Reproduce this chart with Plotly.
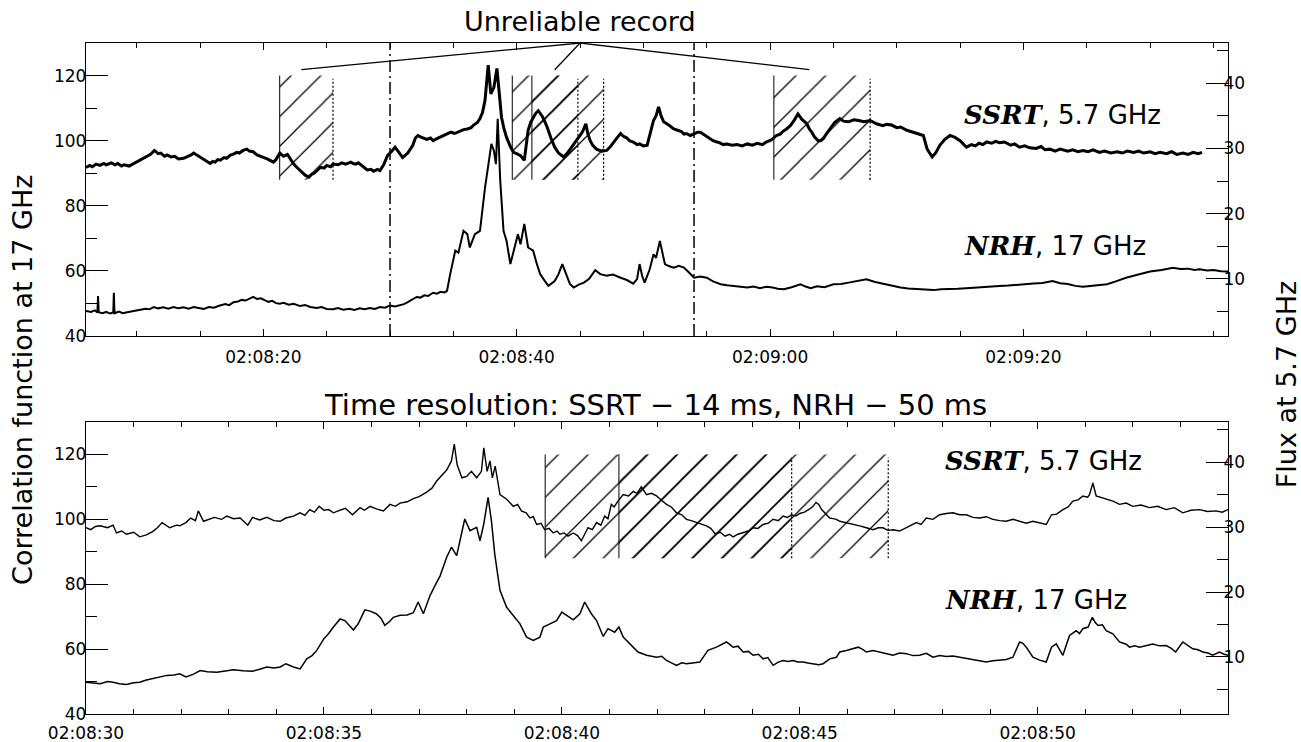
import pandas as pd
import plotly.graph_objects as go
from plotly.subplots import make_subplots

# ---------------- data (seconds after 02:08:00) ----------------
top_ssrt_t = [6.0, 6.3, 6.5, 6.8, 7.1, 7.4, 7.6, 8.0, 8.3, 8.5, 8.8, 9.0, 9.4, 9.7, 10.0, 10.2, 10.5,
              10.8, 11.1, 11.4, 11.7, 11.9, 12.2, 12.4, 12.7, 13.0, 13.3, 13.7, 14.1, 14.3, 14.5, 14.8,
              15.1, 15.4, 15.8, 16.0, 16.2, 16.4, 16.6, 16.9, 17.1, 17.4, 17.6, 17.9, 18.1, 18.4, 18.7,
              18.9, 19.2, 19.5, 19.8, 20.0, 20.3, 20.6, 20.8, 21.0, 21.3, 21.6, 21.9, 22.1, 22.4, 22.7,
              22.9, 23.1, 23.3, 23.6, 23.8, 24.0, 24.3, 24.5, 24.8, 25.0, 25.3, 25.5, 25.9, 26.2, 26.5,
              26.9, 27.1, 27.3, 27.5, 27.7, 28.0, 28.2, 28.5, 28.7, 29.0, 29.2, 29.5, 29.8, 30.1, 30.4,
              30.7, 31.0, 31.4, 31.8, 32.0, 32.2, 32.4, 32.7, 32.9, 33.2, 33.4, 33.7, 34.0, 34.4, 34.8,
              35.1, 35.4, 35.8, 36.1, 36.4, 36.6, 36.9, 37.1, 37.3, 37.5, 37.75, 37.96, 38.2, 38.44,
              38.65, 38.8, 39.0, 39.2, 39.5, 39.75, 40.0, 40.3, 40.6, 40.9, 41.1, 41.3, 41.5, 41.7, 42.0,
              42.2, 42.4, 42.7, 43.0, 43.3, 43.7, 44.0, 44.35, 44.7, 45.0, 45.2, 45.46, 45.6, 45.8, 46.0,
              46.3, 46.7, 47.1, 47.4, 47.6, 47.9, 48.2, 48.4, 48.7, 48.9, 49.2, 49.5, 49.7, 50.0, 50.3,
              50.6, 50.8, 51.0, 51.2, 51.4, 51.6, 52.0, 52.4, 52.7, 53.0, 53.2, 53.4, 53.7, 54.0, 54.3,
              54.5, 54.8, 55.0, 55.3, 55.5, 55.8, 56.0, 56.3, 56.6, 57.0, 57.4, 57.8, 58.2, 58.6, 59.0,
              59.4, 59.7, 60.1, 60.5, 60.8, 61.0, 61.3, 61.6, 61.9, 62.2, 62.5, 62.9, 63.1, 63.3, 63.5,
              63.8, 64.0, 64.2, 64.5, 64.8, 65.1, 65.5, 65.8, 66.2, 66.6, 67.0, 67.4, 67.9, 68.4, 68.9,
              69.2, 69.6, 70.0, 70.3, 70.8, 71.3, 71.7, 72.1, 72.4, 72.8, 73.1, 73.4, 73.8, 74.2, 74.6,
              75.0, 75.5, 75.9, 76.2, 76.5, 76.8, 77.1, 77.5, 77.8, 78.1, 78.5, 79.0, 79.3, 79.7, 80.1,
              80.5, 81.0, 81.4, 81.7, 82.1, 82.5, 82.9, 83.5, 83.9, 84.3, 84.7, 85.1, 85.5, 86.0, 86.4,
              86.9, 87.4, 87.8, 88.2, 88.7, 89.1, 89.5, 90.0, 90.4, 90.8, 91.3, 91.7, 92.1, 92.6, 93.0,
              93.4, 93.8, 94.1]
top_ssrt_v = [27.1, 27.4, 27.2, 27.6, 27.4, 27.7, 27.5, 27.8, 27.5, 27.7, 27.3, 27.5, 27.3, 27.6, 27.9,
              28.2, 28.4, 28.8, 29.1, 29.7, 29.2, 29.3, 28.8, 29.0, 28.7, 28.8, 28.4, 28.5, 28.8, 29.0,
              29.3, 28.9, 28.5, 28.2, 27.7, 28.0, 27.9, 28.3, 28.2, 28.6, 28.5, 29.0, 29.1, 29.4, 29.3,
              29.7, 29.9, 29.6, 29.5, 29.0, 28.8, 28.6, 28.4, 28.1, 27.9, 28.3, 29.3, 28.8, 29.1, 28.5,
              27.6, 27.0, 26.6, 26.3, 25.9, 25.6, 26.0, 26.2, 26.8, 27.1, 27.0, 27.4, 27.2, 27.6, 27.5,
              27.8, 27.6, 27.9, 27.7, 27.6, 27.8, 27.5, 27.0, 26.7, 26.8, 26.5, 26.8, 26.6, 27.5, 28.9,
              29.5, 30.2, 29.4, 28.6, 29.3, 30.5, 31.6, 32.0, 31.8, 31.5, 31.4, 31.6, 31.2, 31.5, 31.8,
              32.1, 32.5, 32.3, 32.6, 32.9, 33.0, 33.2, 33.6, 34.0, 34.6, 35.5, 37.4, 42.8, 38.4, 39.4,
              42.3, 37.9, 34.8, 33.0, 31.7, 30.3, 29.4, 29.2, 28.9, 28.2, 32.8, 34.0, 34.8, 35.4, 35.8,
              35.0, 34.2, 33.3, 31.6, 30.2, 29.3, 28.7, 29.3, 30.2, 31.2, 32.0, 32.6, 33.8, 32.4, 31.2,
              30.5, 29.9, 29.6, 29.7, 30.3, 30.9, 31.6, 32.3, 31.9, 31.6, 31.2, 31.0, 30.6, 30.7, 30.4,
              30.5, 32.8, 34.3, 35.0, 36.4, 35.0, 34.1, 33.6, 33.0, 32.8, 32.6, 32.2, 32.3, 32.0, 32.2,
              32.5, 32.5, 32.1, 31.8, 31.4, 31.2, 31.0, 30.9, 30.6, 30.7, 30.5, 30.6, 30.4, 30.7, 30.5,
              30.8, 30.6, 31.0, 31.3, 32.0, 32.2, 32.6, 33.0, 33.5, 34.3, 35.3, 34.5, 33.8, 33.0, 32.5,
              31.8, 31.2, 31.2, 31.5, 32.4, 33.3, 34.0, 34.6, 34.2, 34.1, 34.4, 34.3, 34.1, 34.3, 33.8,
              33.5, 33.7, 33.6, 33.2, 33.3, 32.8, 32.5, 32.3, 32.0, 29.9, 28.7, 29.4, 30.5, 31.4, 32.0,
              31.7, 31.2, 30.2, 30.6, 30.4, 30.8, 30.6, 31.0, 30.8, 31.1, 30.9, 31.0, 30.5, 30.7, 30.2,
              30.4, 30.1, 30.0, 30.3, 29.8, 29.9, 29.6, 29.9, 29.6, 29.8, 29.5, 29.7, 29.5, 29.8, 29.4,
              29.6, 29.3, 29.5, 29.3, 29.6, 29.4, 29.6, 29.3, 29.5, 29.2, 29.4, 29.2, 29.5, 29.1, 29.3,
              29.1, 29.4, 29.2, 29.4]

top_nrh_t = [6.0, 6.4, 6.7, 6.9, 6.95, 7.0, 7.3, 7.6, 7.9, 8.15, 8.2, 8.25, 8.6, 8.9, 9.25, 9.6, 10.0,
             10.3, 10.7, 11.0, 11.35, 11.7, 12.1, 12.5, 12.9, 13.3, 13.7, 14.1, 14.5, 14.9, 15.3, 15.7,
             16.1, 16.5, 17.0, 17.3, 17.65, 18.0, 18.3, 18.6, 19.0, 19.2, 19.5, 19.8, 20.1, 20.4, 20.7,
             21.0, 21.3, 21.6, 22.0, 22.4, 22.9, 23.3, 23.7, 24.2, 24.6, 25.0, 25.5, 25.9, 26.3, 26.8,
             27.2, 27.6, 28.0, 28.4, 28.8, 29.2, 29.6, 30.0, 30.4, 30.8, 31.1, 31.4, 31.6, 31.9, 32.1,
             32.4, 32.7, 33.0, 33.4, 33.7, 34.0, 34.3, 34.5, 34.75, 35.15, 35.4, 35.8, 36.1, 36.3,
             36.7, 37.1, 37.5, 37.8, 38.0, 38.2, 38.36, 38.5, 38.7, 38.96, 39.2, 39.5, 39.9, 40.1,
             40.3, 40.6, 40.9, 41.3, 41.6, 41.85, 42.2, 42.5, 43.0, 43.3, 43.6, 44.0, 44.2, 44.5, 44.9,
             45.3, 45.7, 46.2, 46.6, 47.1, 47.6, 48.2, 48.7, 49.2, 49.5, 49.7, 49.9, 50.1, 50.5, 50.8,
             51.0, 51.3, 51.5, 51.7, 52.0, 52.4, 52.8, 53.2, 53.6, 54.0, 54.5, 55.0, 55.5, 56.1, 56.6,
             57.1, 57.6, 58.2, 58.7, 59.2, 59.7, 60.2, 60.6, 61.1, 61.7, 62.4, 62.8, 63.2, 63.7, 64.3,
             65.0, 65.6, 66.2, 66.9, 67.6, 68.3, 69.0, 69.6, 70.3, 70.9, 71.6, 72.2, 72.9, 73.5, 74.2,
             74.8, 75.5, 76.1, 76.8, 77.4, 78.1, 78.8, 79.5, 80.1, 80.8, 81.5, 82.3, 82.9, 83.5, 84.1,
             84.7, 85.6, 86.6, 87.3, 88.1, 89.0, 90.0, 90.9, 91.8, 92.4, 93.0, 93.5, 93.9, 94.5, 95.0,
             95.6, 96.2]
top_nrh_v = [47.7, 47.4, 47.9, 47.2, 52.3, 47.3, 47.0, 47.4, 46.9, 47.2, 53.3, 47.0, 47.5, 47.0, 47.3,
             47.6, 47.8, 48.1, 48.4, 48.2, 48.9, 48.5, 48.8, 48.4, 48.9, 48.5, 48.8, 48.4, 48.9, 48.6,
             48.3, 48.9, 48.7, 49.3, 49.8, 49.5, 50.4, 50.6, 51.1, 50.9, 51.8, 52.0, 51.4, 51.6, 51.0,
             50.5, 50.8, 50.1, 49.9, 50.2, 49.6, 49.9, 49.2, 49.5, 48.9, 48.6, 48.9, 48.3, 48.2, 48.6,
             48.1, 48.4, 48.0, 48.5, 48.2, 48.6, 48.3, 48.9, 48.7, 49.4, 49.1, 49.4, 49.8, 50.4, 50.8,
             51.6, 52.0, 51.8, 52.5, 52.3, 53.3, 53.0, 53.6, 53.4, 53.9, 59.0, 66.2, 65.6, 72.3, 71.3,
             67.2, 71.3, 72.3, 85.6, 93.8, 99.0, 96.9, 92.8, 106.7, 87.7, 72.3, 69.2, 62.1, 68.2, 71.3,
             68.2, 74.4, 67.2, 66.2, 62.0, 59.0, 57.0, 55.4, 56.9, 59.0, 62.1, 57.9, 56.0, 54.9, 55.8,
             56.4, 57.5, 60.2, 59.0, 58.5, 58.9, 57.9, 57.2, 56.1, 57.5, 62.1, 58.5, 56.4, 60.5, 65.1,
             64.0, 69.2, 65.5, 62.1, 61.5, 61.0, 61.6, 61.0, 59.5, 57.9, 58.3, 57.9, 56.8, 55.9, 55.6,
             55.4, 55.0, 54.9, 55.2, 54.7, 55.1, 54.9, 54.5, 54.4, 55.0, 55.9, 55.2, 54.7, 55.3, 55.0,
             55.9, 56.0, 56.4, 56.8, 57.4, 56.6, 56.0, 55.3, 54.9, 54.6, 54.5, 54.2, 54.1, 54.4, 54.4,
             54.5, 54.7, 54.9, 55.0, 55.2, 55.4, 55.5, 55.8, 55.9, 56.1, 56.3, 56.9, 56.2, 56.0, 55.4,
             55.1, 55.5, 55.9, 56.8, 57.9, 58.8, 59.8, 60.3, 61.0, 60.6, 60.7, 60.3, 60.5, 60.1, 60.3,
             59.9, 59.8]

bot_ssrt_t = [30.0, 30.1, 30.2, 30.3, 30.45, 30.57, 30.64, 30.75, 30.85, 31.0, 31.13, 31.27, 31.4, 31.5,
              31.6, 31.76, 31.9, 31.97, 32.1, 32.2, 32.3, 32.36, 32.47, 32.6, 32.7, 32.85, 32.96, 33.1,
              33.24, 33.4, 33.5, 33.65, 33.8, 33.95, 34.08, 34.2, 34.36, 34.5, 34.6, 34.7, 34.8, 34.9,
              35.0, 35.1, 35.2, 35.3, 35.45, 35.6, 35.76, 35.85, 35.97, 36.1, 36.25, 36.39, 36.5, 36.6,
              36.75, 36.88, 37.0, 37.16, 37.27, 37.37, 37.47, 37.58, 37.68, 37.74, 37.8, 37.9, 38.0,
              38.1, 38.21, 38.31, 38.36, 38.43, 38.49, 38.54, 38.6, 38.7, 38.84, 38.98, 39.07, 39.15,
              39.25, 39.33, 39.4, 39.47, 39.56, 39.64, 39.73, 39.82, 39.9, 39.96, 40.05, 40.13, 40.24,
              40.33, 40.41, 40.48, 40.55, 40.64, 40.73, 40.82, 40.9, 40.97, 41.04, 41.1, 41.18, 41.29,
              41.4, 41.5, 41.58, 41.67, 41.78, 41.88, 41.99, 42.1, 42.2, 42.3, 42.41, 42.52, 42.62,
              42.72, 42.83, 42.93, 43.04, 43.13, 43.22, 43.33, 43.43, 43.52, 43.6, 43.7, 43.81, 43.92,
              44.02, 44.12, 44.23, 44.34, 44.44, 44.55, 44.65, 44.74, 44.83, 44.92, 45.0, 45.1, 45.21,
              45.28, 45.34, 45.4, 45.46, 45.56, 45.63, 45.7, 45.77, 45.84, 45.98, 46.1, 46.26, 46.4,
              46.54, 46.65, 46.75, 46.85, 46.96, 47.1, 47.24, 47.35, 47.45, 47.55, 47.66, 47.8, 47.94,
              48.08, 48.22, 48.36, 48.5, 48.64, 48.78, 48.92, 49.06, 49.2, 49.34, 49.48, 49.62, 49.76,
              49.9, 50.04, 50.18, 50.29, 50.4, 50.53, 50.64, 50.74, 50.85, 50.95, 51.05, 51.09, 51.16,
              51.23, 51.33, 51.44, 51.58, 51.72, 51.86, 52.0, 52.17, 52.35, 52.52, 52.7, 52.87, 53.05,
              53.22, 53.4, 53.57, 53.75, 53.88, 54.0]
bot_ssrt_v = [29.9, 29.6, 30.1, 30.2, 29.9, 30.3, 29.1, 29.4, 28.9, 29.2, 28.5, 28.8, 29.3, 29.9,
              30.7, 29.9, 30.3, 30.2, 30.7, 31.4, 31.0, 32.5, 30.9, 31.3, 31.5, 31.2, 31.7, 31.3,
              31.4, 30.3, 31.5, 31.1, 31.5, 31.0, 30.9, 31.4, 31.7, 32.2, 31.8, 32.7, 32.3, 33.2,
              32.6, 32.7, 32.2, 32.5, 32.9, 31.9, 33.0, 32.6, 33.2, 32.8, 32.5, 33.5, 33.2, 33.7,
              33.9, 34.4, 34.7, 35.4, 36.0, 37.1, 37.9, 38.8, 40.2, 42.8, 39.6, 37.6, 37.8,
              38.6, 37.6, 38.6, 42.2, 38.6, 40.2, 37.6, 39.4, 35.0, 34.3, 33.2, 33.5, 32.5,
              32.2, 31.4, 31.6, 30.4, 30.6, 29.6, 29.8, 29.1, 29.4, 28.9, 29.1, 28.6, 29.1,
              28.7, 27.9, 29.0, 29.9, 29.6, 30.7, 30.3, 31.7, 31.3, 33.5, 33.1, 34.0, 35.0,
              34.8, 35.5, 35.2, 36.2, 35.0, 35.2, 34.8, 34.1, 33.5, 33.1, 32.2, 31.9, 31.2,
              31.0, 30.7, 30.5, 30.2, 29.8, 29.0, 29.2, 28.6, 28.9, 28.5, 28.9, 29.1, 29.4,
              29.9, 29.8, 30.4, 30.6, 31.2, 31.0, 31.7, 31.5, 31.9, 31.7, 32.1, 32.3, 32.8,
              33.2, 33.8, 33.5, 32.7, 31.9, 31.4, 31.3, 31.2, 30.9, 30.7, 30.5, 30.2, 29.9,
              29.6, 29.9, 29.9, 29.5, 29.6, 29.4, 29.9, 30.3, 30.7, 30.4, 31.4, 31.2, 31.9,
              32.1, 32.2, 31.9, 31.9, 31.5, 31.4, 31.6, 31.2, 31.0, 30.9, 31.2, 30.9, 30.6,
              30.9, 30.7, 30.4, 31.9, 32.0, 32.7, 33.1, 34.0, 34.2, 34.8, 34.6, 35.0, 36.8,
              34.8, 34.6, 34.3, 34.0, 33.5, 33.7, 33.2, 33.4, 33.0, 33.2, 32.7, 33.0, 32.2,
              32.6, 32.7, 32.4, 32.5, 32.3, 32.7]

bot_nrh_t = [30.0, 30.15, 30.3, 30.45, 30.57, 30.7, 30.85, 31.0, 31.13, 31.27, 31.41, 31.55, 31.7, 31.85,
             31.97, 32.1, 32.25, 32.4, 32.55, 32.75, 32.9, 33.1, 33.3, 33.5, 33.65, 33.8, 33.95, 34.08,
             34.2, 34.36, 34.5, 34.64, 34.75, 34.85, 35.0, 35.1, 35.2, 35.34, 35.44, 35.55, 35.62, 35.72,
             35.86, 35.97, 36.1, 36.2, 36.28, 36.38, 36.46, 36.6, 36.75, 36.88, 36.98, 37.09, 37.23,
             37.35, 37.44, 37.58, 37.68, 37.79, 37.9, 37.96, 38.07, 38.21, 38.28, 38.36, 38.45, 38.52,
             38.59, 38.7, 38.84, 38.98, 39.12, 39.26, 39.4, 39.54, 39.61, 39.75, 39.89, 40.0, 40.1,
             40.24, 40.38, 40.48, 40.62, 40.73, 40.87, 40.97, 41.11, 41.2, 41.29, 41.43, 41.6, 41.78,
             41.99, 42.1, 42.2, 42.41, 42.52, 42.62, 42.75, 42.9, 43.07, 43.25, 43.46, 43.6, 43.7,
             43.81, 43.92, 44.02, 44.13, 44.23, 44.33, 44.44, 44.55, 44.65, 44.75, 44.86, 44.96, 45.07,
             45.17, 45.28, 45.4, 45.49, 45.63, 45.77, 45.84, 45.98, 46.1, 46.23, 46.32, 46.4, 46.54,
             46.68, 46.82, 46.96, 47.1, 47.24, 47.38, 47.52, 47.66, 47.8, 47.94, 48.08, 48.22, 48.36,
             48.5, 48.64, 48.78, 48.92, 49.06, 49.2, 49.34, 49.48, 49.55, 49.62, 49.69, 49.76, 49.9,
             50.04, 50.18, 50.29, 50.39, 50.46, 50.53, 50.6, 50.67, 50.81, 50.88, 50.95, 51.06, 51.15,
             51.21, 51.27, 51.36, 51.44, 51.58, 51.72, 51.86, 51.93, 52.04, 52.14, 52.28, 52.42, 52.56,
             52.7, 52.8, 52.9, 53.05, 53.16, 53.26, 53.37, 53.47, 53.58, 53.68, 53.82, 53.92, 54.0]
bot_nrh_v = [49.8, 49.5, 49.3, 50.0, 49.8, 49.3, 49.1, 49.6, 49.8, 50.5, 50.9, 51.5, 51.9, 52.0,
             52.4, 51.4, 52.2, 53.4, 53.0, 52.9, 53.3, 53.6, 53.3, 53.2, 53.8, 54.5, 54.2, 54.5,
             55.5, 54.5, 53.9, 57.0, 58.0, 59.6, 63.2, 64.8, 66.8, 69.3, 68.8, 67.0, 65.9, 67.8,
             72.1, 71.7, 70.9, 69.5, 67.3, 68.5, 69.8, 70.4, 70.5, 71.2, 74.5, 70.9, 76.5,
             80.0, 82.5, 88.3, 91.4, 88.8, 95.5, 100.1, 96.5, 97.5, 93.4, 98.6, 106.8, 99.6,
             89.3, 78.1, 72.9, 70.4, 67.8, 63.7, 62.7, 63.7, 66.8, 67.8, 68.8, 71.4, 70.4,
             69.0, 70.9, 74.5, 70.9, 68.8, 63.9, 66.3, 65.2, 66.8, 63.7, 61.6, 59.1, 58.1,
             57.5, 57.8, 56.5, 55.0, 55.8, 55.5, 55.7, 56.0, 59.6, 60.6, 62.2, 60.6, 60.9,
             59.1, 59.3, 58.1, 58.4, 57.0, 57.4, 55.0, 56.0, 56.5, 56.2, 56.5, 56.0, 56.0,
             55.7, 55.5, 55.2, 55.5, 57.0, 57.5, 59.1, 59.6, 60.1, 60.6, 59.9, 59.1, 59.6,
             59.1, 58.5, 58.1, 58.8, 58.6, 58.0, 58.1, 58.7, 57.5, 58.0, 57.7, 57.9, 57.5,
             57.2, 56.7, 56.5, 56.0, 56.4, 56.5, 56.8, 57.5, 60.0, 62.2, 61.8, 60.6, 57.5,
             56.6, 56.0, 60.6, 61.6, 60.0, 58.1, 61.2, 64.2, 65.7, 64.8, 66.3, 66.8, 69.8,
             68.2, 67.3, 67.5, 65.7, 64.7, 62.2, 61.5, 60.6, 61.0, 60.6, 61.1, 61.6, 61.0,
             61.1, 60.3, 59.1, 62.2, 61.0, 60.1, 59.8, 59.1, 58.8, 58.1, 59.1, 58.4, 58.1]

# unreliable-record intervals (start = solid edge, end = dotted edge), seconds after 02:08:00
top_hatch_start = [21.29, 39.65, 41.2, 60.3]
top_hatch_end = [25.5, 44.83, 46.86, 67.9]
bot_hatch_start = [39.65, 41.2]
bot_hatch_end = [44.83, 46.86]
hatch_low, hatch_high = 88, 120
pointer_tip = (45.0, 130)
pointer_ends_t = [23.0, 43.0, 63.1]
pointer_ends_v = 121.8
zoom_window = [30.0, 54.0]

BASE = pd.Timestamp("2000-01-01 02:08:00")


def ts(t):
    return (BASE + pd.Timedelta(seconds=t)).strftime("%Y-%m-%d %H:%M:%S.%f")


def tlist(ts_list):
    return [ts(t) for t in ts_list]


FONT = "DejaVu Sans"
fig = make_subplots(rows=2, cols=1, specs=[[{"secondary_y": True}], [{"secondary_y": True}]])


def add_hatch(starts, ends, row):
    for a, b in zip(starts, ends):
        fig.add_trace(go.Scatter(
            x=tlist([a, a, b, b, a]), y=[hatch_low, hatch_high, hatch_high, hatch_low, hatch_low],
            mode="lines", line=dict(width=0, color="rgba(0,0,0,0)"), fill="toself",
            fillcolor="rgba(0,0,0,0)",
            fillpattern=dict(shape="/", size=21, solidity=0.06, fgcolor="black", fgopacity=1,
                             bgcolor="rgba(0,0,0,0)"),
            hoverinfo="skip", showlegend=False), row=row, col=1, secondary_y=False)


add_hatch(top_hatch_start, top_hatch_end, 1)
add_hatch(bot_hatch_start, bot_hatch_end, 2)

fig.add_trace(go.Scatter(x=tlist(top_nrh_t), y=top_nrh_v, mode="lines",
                         line=dict(color="black", width=2), showlegend=False),
              row=1, col=1, secondary_y=False)
fig.add_trace(go.Scatter(x=tlist(top_ssrt_t), y=top_ssrt_v, mode="lines",
                         line=dict(color="black", width=3), showlegend=False),
              row=1, col=1, secondary_y=True)
fig.add_trace(go.Scatter(x=tlist(bot_nrh_t), y=bot_nrh_v, mode="lines",
                         line=dict(color="black", width=1.5), showlegend=False),
              row=2, col=1, secondary_y=False)
fig.add_trace(go.Scatter(x=tlist(bot_ssrt_t), y=bot_ssrt_v, mode="lines",
                         line=dict(color="black", width=1.4), showlegend=False),
              row=2, col=1, secondary_y=True)

shapes = []
for xr, yr, starts, ends in [("x", "y", top_hatch_start, top_hatch_end),
                             ("x2", "y3", bot_hatch_start, bot_hatch_end)]:
    for a, b in zip(starts, ends):
        shapes.append(dict(type="line", xref=xr, yref=yr, x0=ts(a), x1=ts(a), y0=hatch_low,
                           y1=hatch_high, line=dict(color="black", width=1)))
        shapes.append(dict(type="line", xref=xr, yref=yr, x0=ts(b), x1=ts(b), y0=hatch_low,
                           y1=hatch_high - 1, line=dict(color="black", width=1.2, dash="2px,2px")))
for t in zoom_window:
    shapes.append(dict(type="line", xref="x", yref="y domain", x0=ts(t), x1=ts(t), y0=0, y1=1,
                       line=dict(color="black", width=1.5, dash="12px,4px,2px,4px")))
for t in pointer_ends_t:
    shapes.append(dict(type="line", xref="x", yref="y", x0=ts(pointer_tip[0]), y0=pointer_tip[1],
                       x1=ts(t), y1=pointer_ends_v, line=dict(color="black", width=1.3)))

ann = []


def label(text, x, y, size=26, **kw):
    ann.append(dict(text=text, x=x, y=y, xref="paper", yref="paper", showarrow=False,
                    font=dict(family=FONT, size=size, color="black"), **kw))


serif = "<span style='font-family:DejaVu Serif'><b><i>%s</i></b></span>"
label(serif % "SSRT" + ", 5.7 GHz", 0.767, 0.8927, xanchor="left", yanchor="middle")
label(serif % "NRH" + ", 17 GHz", 0.767, 0.6975, xanchor="left", yanchor="middle")
label(serif % "SSRT" + ", 5.7 GHz", 0.7504, 0.377, xanchor="left", yanchor="middle")
label(serif % "NRH" + ", 17 GHz", 0.7504, 0.170, xanchor="left", yanchor="middle")
label("Unreliable record", 0.4326, 1.0313, size=27, xanchor="center", yanchor="middle")
label("Time resolution: SSRT − 14 ms, NRH − 50 ms", 0.499, 0.4605, size=29,
      xanchor="center", yanchor="middle")
label("Correlation function at 17 GHz", -0.0552, 0.4978, size=27, textangle=-90,
      xanchor="center", yanchor="middle")
label("Flux at 5.7 GHz", 1.0508, 0.490, size=27, textangle=-90, xanchor="center",
      yanchor="middle")

axis_common = dict(showgrid=False, zeroline=False, showline=True, linecolor="black", linewidth=1.3,
                   ticks="inside", tickcolor="black", tickwidth=1.2, automargin=False,
                   tickfont=dict(family=FONT, size=17, color="black"))
yminor_l = dict(tickvals=[50, 70, 90, 110], ticks="inside", ticklen=11, tickcolor="black",
                showgrid=False)
yminor_r = dict(tickvals=[5, 15, 25, 35, 45], ticks="inside", ticklen=11, tickcolor="black",
                showgrid=False)

fig.update_layout(
    width=1301, height=742, paper_bgcolor="white", plot_bgcolor="white",
    margin=dict(l=86, r=73, t=43, b=28, autoexpand=False),
    shapes=shapes, annotations=ann, showlegend=False,
    xaxis=dict(axis_common, domain=[0, 1], anchor="y", type="date",
               range=[ts(6.0), ts(96.15)], tick0=ts(0), dtick=20000, tickformat="%H:%M:%S",
               ticklen=7, mirror="ticks", ticklabelstandoff=5,
               minor=dict(dtick=5000, tick0=ts(0), ticks="inside", ticklen=5, tickcolor="black",
                          showgrid=False)),
    yaxis=dict(axis_common, domain=[0.5633, 1.0], anchor="x", range=[40, 130],
               tickvals=[40, 60, 80, 100, 120], ticklen=22, ticklabelstandoff=-5,
               minor=yminor_l),
    yaxis2=dict(axis_common, domain=[0.5633, 1.0], anchor="x", overlaying="y", side="right",
                range=[1.2, 46.2], tickvals=[10, 20, 30, 40], ticklen=22, ticklabelstandoff=-9,
                minor=yminor_r),
    xaxis2=dict(axis_common, domain=[0, 1], anchor="y3", type="date",
                range=[ts(30.0), ts(54.0)], tick0=ts(0), dtick=5000, tickformat="%H:%M:%S",
                ticklen=7, mirror="ticks", ticklabelstandoff=3,
                minor=dict(dtick=1000, tick0=ts(0), ticks="inside", ticklen=5, tickcolor="black",
                           showgrid=False)),
    yaxis3=dict(axis_common, domain=[0, 0.4352], anchor="x2", range=[40, 130],
                tickvals=[40, 60, 80, 100, 120], ticklen=22, ticklabelstandoff=-5,
                minor=yminor_l),
    yaxis4=dict(axis_common, domain=[0, 0.4352], anchor="x2", overlaying="y3", side="right",
                range=[1.2, 46.2], tickvals=[10, 20, 30, 40], ticklen=22, ticklabelstandoff=-9,
                minor=yminor_r),
)

fig.write_html("out.html", config={"displayModeBar": False},
               post_script="document.body.style.margin='0px';")
